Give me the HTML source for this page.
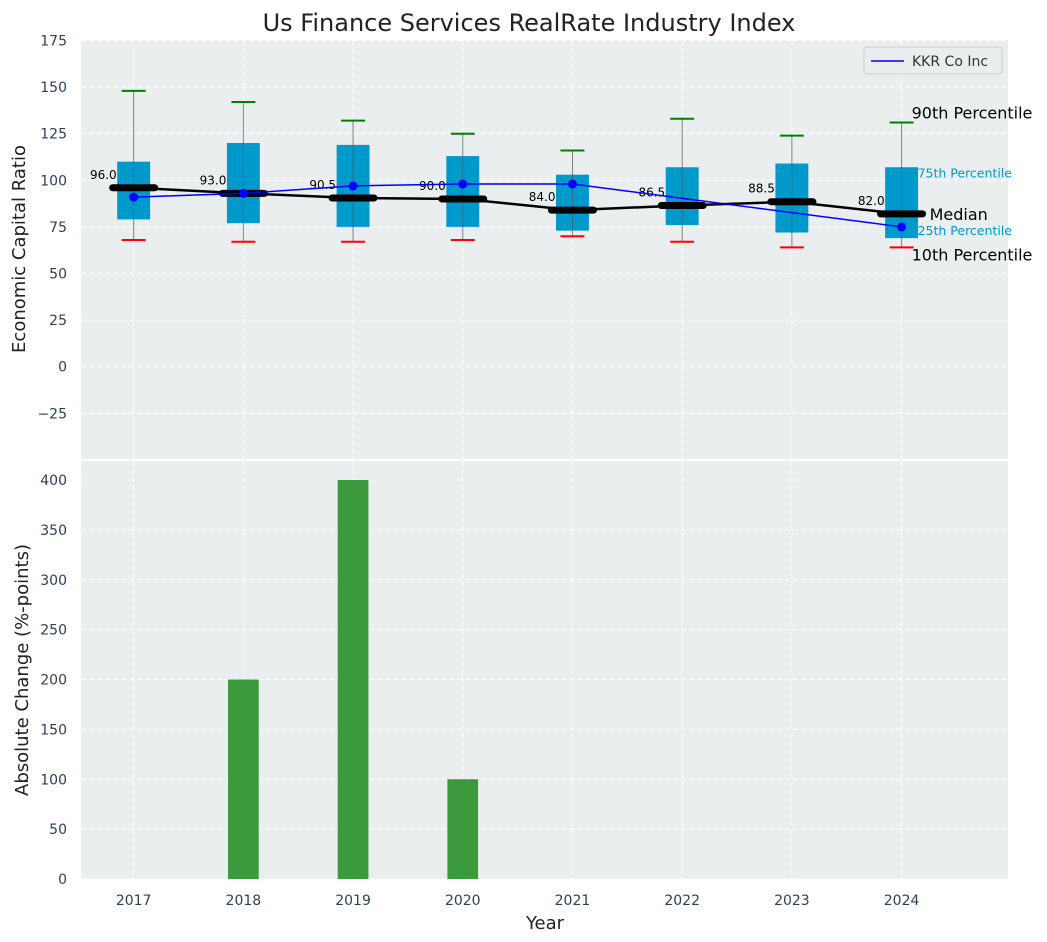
<!DOCTYPE html>
<html><head><meta charset="utf-8">
<style>
html,body{margin:0;padding:0;background:#fff;}
svg{display:block;font-family:"DejaVu Sans","Liberation Sans",sans-serif;}
</style></head>
<body>
<svg id="chart" width="1047" height="942" viewBox="0 0 1047 942"></svg>
<script>
const years=[2017,2018,2019,2020,2021,2022,2023,2024];
const p10=[68,67,67,68,70,67,64,64];
const q1=[79,77,75,75,73,76,72,69];
const q3=[110,120,119,113,103,107,109,107];
const p90=[148,142,132,125,116,133,124,131];
const medians=[96,93,90.5,90,84,86.5,88.5,82];
const kkr=[91,93,97,98,98,null,null,75];
const changes=[0,200,400,100,0,0,0,0];
const topTicks=[-25,0,25,50,75,100,125,150,175];
const botTicks=[0,50,100,150,200,250,300,350,400];

const NS="http://www.w3.org/2000/svg";
const svg=document.getElementById('chart');
function el(tag,attrs,parent,text){const e=document.createElementNS(NS,tag);for(const k in attrs)e.setAttribute(k,attrs[k]);if(text!==undefined)e.textContent=text;(parent||svg).appendChild(e);return e;}
const L=81,R=1008;
const x=v=>L+(v-2016.52)/(2024.97-2016.52)*(R-L);
const yT=v=>366.7-v*(46.6/25);
const yB=v=>879-v*(399/400);
const pxPerYear=x(2018)-x(2017);

let p=el('rect',{x:L,y:40,width:R-L,height:419,fill:'#eaeeef'});

p=el('rect',{x:L,y:461,width:R-L,height:418,fill:'#eaeeef'});


topTicks.forEach(t=>{
  el('line',{x1:L,x2:R,y1:yT(t),y2:yT(t),stroke:'#fff','stroke-dasharray':'5,3','stroke-width':1});
  const tx=el('text',{x:L-14,y:yT(t)+5,'text-anchor':'end','font-size':14,fill:'#2e3f55'},null,t<0?'\u2212'+(-t):String(t));
  
});
botTicks.forEach(t=>{
  el('line',{x1:L,x2:R,y1:yB(t),y2:yB(t),stroke:'#fff','stroke-dasharray':'5,3','stroke-width':1});
  const tx=el('text',{x:L-14,y:yB(t)+5,'text-anchor':'end','font-size':14,fill:'#2e3f55'},null,String(t));
  
});
years.forEach(yr=>{
  el('line',{x1:x(yr),x2:x(yr),y1:40,y2:459,stroke:'#fff','stroke-dasharray':'5,3'});
  el('line',{x1:x(yr),x2:x(yr),y1:461,y2:879,stroke:'#fff','stroke-dasharray':'5,3'});
  const tx=el('text',{x:x(yr),y:905,'text-anchor':'middle','font-size':14,fill:'#2e3f55'},null,String(yr));
  
});

const bw=0.3*pxPerYear;
years.forEach((yr,i)=>{
  const cx=x(yr);
  let w=el('line',{x1:cx,x2:cx,y1:yT(p90[i]),y2:yT(p10[i]),stroke:'#808080','stroke-width':1});
  
  let b=el('rect',{x:cx-bw/2,y:yT(q3[i]),width:bw,height:yT(q1[i])-yT(q3[i]),fill:'#0099cc'});
  
  el('line',{x1:cx,x2:cx,y1:yT(q3[i]),y2:yT(q1[i]),stroke:'#555','stroke-width':1,opacity:0.6});
  let c=el('line',{x1:cx-12,x2:cx+12,y1:yT(p90[i]),y2:yT(p90[i]),stroke:'#008000','stroke-width':2});
  
  c=el('line',{x1:cx-12,x2:cx+12,y1:yT(p10[i]),y2:yT(p10[i]),stroke:'#ff0000','stroke-width':2});
  
});
let mp=el('polyline',{points:years.map((yr,i)=>x(yr)+','+yT(medians[i])).join(' '),fill:'none',stroke:'#000','stroke-width':2.5});

years.forEach((yr,i)=>{
  const cx=x(yr),cy=yT(medians[i]);
  let m=el('line',{x1:cx-21,x2:cx+21,y1:cy,y2:cy,stroke:'#000','stroke-width':7,'stroke-linecap':'round'});
  
  let t=el('text',{x:cx-17,y:cy-9,'text-anchor':'end','font-size':12,fill:'#000'},null,medians[i].toFixed(1));
  
});
const kp=years.map((yr,i)=>kkr[i]==null?null:[x(yr),yT(kkr[i])]).filter(a=>a);
let kl=el('polyline',{points:kp.map(a=>a.join(',')).join(' '),fill:'none',stroke:'#0000ff','stroke-width':1.5});

kp.forEach(a=>{let d=el('circle',{cx:a[0],cy:a[1],r:4.5,fill:'#0000ff'});
  });

const ax=x(2024);
const ann=[[ax+10,yT(p90[7])-4,'90th Percentile',16,'#000','p90-annotation'],
[ax+16,yT(q3[7])+10,'75th Percentile',12.5,'#0099cc','q3-annotation'],
[ax+28,yT(medians[7])+6,'Median',16,'#000','median-annotation'],
[ax+16,yT(q1[7])-3,'25th Percentile',12.5,'#0099cc','q1-annotation'],
[ax+10,yT(p10[7])+13,'10th Percentile',16,'#000','p10-annotation']];
ann.forEach(a=>{let t=el('text',{x:a[0],y:a[1],'font-size':a[3],fill:a[4]},null,a[2]);
  });

const barW=0.28*pxPerYear;
years.forEach((yr,i)=>{if(!changes[i])return;
  let b=el('rect',{x:x(yr)-barW/2,y:yB(changes[i]),width:barW,height:yB(0)-yB(changes[i]),fill:'#3a9a3c'});
  
});

let lg=el('g',{});
el('rect',{x:864,y:47,width:138,height:27,rx:3,fill:'#eaeeef',stroke:'#ccc'},lg);
el('line',{x1:871,x2:904,y1:61,y2:61,stroke:'#0000ff','stroke-width':1.5},lg);
el('text',{x:912,y:66,'font-size':14,fill:'#333'},lg,'KKR Co Inc');

let t=el('text',{x:529,y:31,'text-anchor':'middle','font-size':24,fill:'#222'},null,'Us Finance Services RealRate Industry Index');

t=el('text',{x:0,y:0,'text-anchor':'middle','font-size':18,fill:'#222',transform:'translate(25,249) rotate(-90)'},null,'Economic Capital Ratio');

t=el('text',{x:0,y:0,'text-anchor':'middle','font-size':18,fill:'#222',transform:'translate(28,670) rotate(-90)'},null,'Absolute Change (%-points)');

t=el('text',{x:545,y:929,'text-anchor':'middle','font-size':18,fill:'#222'},null,'Year');

</script>
</body></html>
